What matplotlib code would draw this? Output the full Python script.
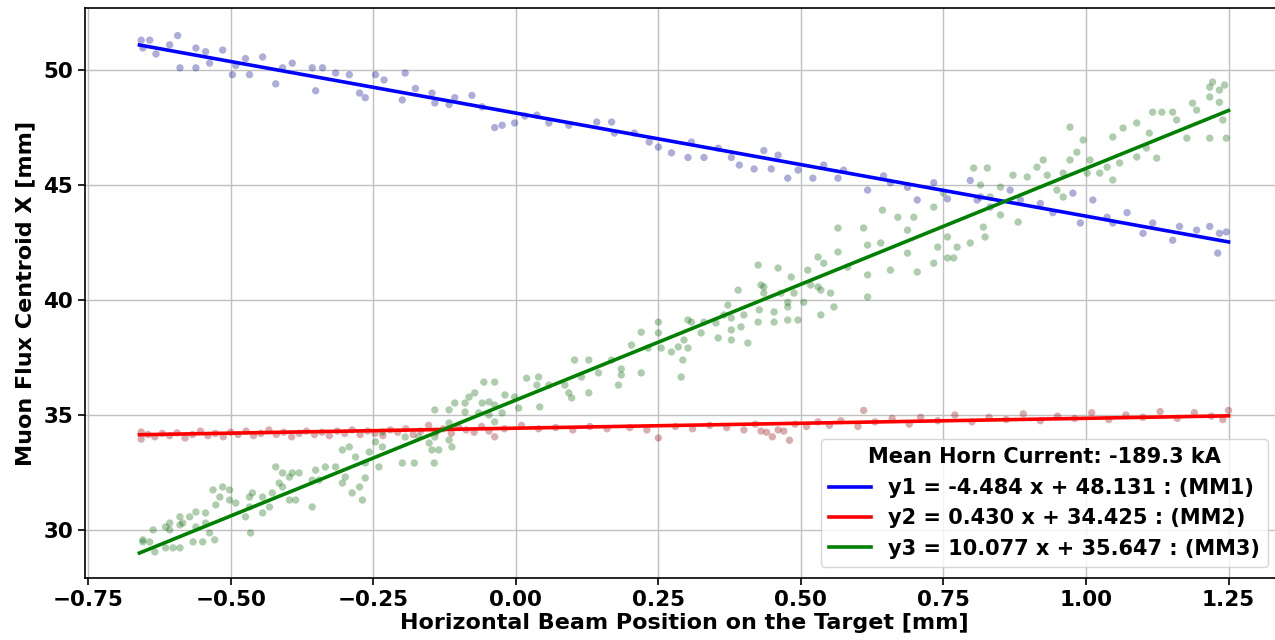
import numpy as np
import matplotlib
matplotlib.use("Agg")
import matplotlib.pyplot as plt

# values
blue_x = [-0.657, -0.642, -0.593, -0.654, -0.631, -0.607, -0.589, -0.561, -0.544, -0.561,
          -0.537, -0.514, -0.497, -0.491, -0.474, -0.467, -0.444, -0.421, -0.409, -0.392,
          -0.357, -0.351, -0.339, -0.316, -0.292, -0.274, -0.264, -0.246, -0.231, -0.194,
          -0.199, -0.176, -0.147, -0.142, -0.117, -0.107, -0.077, -0.059, -0.037, -0.024,
          -0.002, 0.016, 0.037, 0.058, 0.093, 0.142, 0.168, 0.173, 0.208, 0.234,
          0.25, 0.273, 0.302, 0.308, 0.33, 0.355, 0.378, 0.392, 0.418, 0.435,
          0.448, 0.46, 0.477, 0.495, 0.521, 0.54, 0.565, 0.575, 0.617, 0.645,
          0.657, 0.687, 0.704, 0.733, 0.757, 0.797, 0.809, 0.815, 0.832, 0.867,
          0.885, 0.92, 0.942, 0.977, 0.99, 1.012, 1.037, 1.047, 1.072, 1.1,
          1.117, 1.152, 1.164, 1.194, 1.217, 1.231, 1.234, 1.246]
blue_y = [51.3, 51.3, 51.5, 50.96, 50.7, 51.1, 50.1, 50.96, 50.8, 50.1,
          50.3, 50.87, 49.8, 50.2, 50.5, 49.8, 50.57, 49.4, 50.1, 50.3,
          50.1, 49.1, 50.1, 49.87, 49.8, 49.0, 48.8, 49.8, 49.57, 49.87,
          48.7, 49.2, 49.0, 48.57, 48.5, 48.8, 48.9, 48.4, 47.5, 47.6,
          47.7, 48.0, 48.04, 47.7, 47.6, 47.74, 47.74, 47.26, 47.26, 46.87,
          46.65, 46.4, 46.2, 46.87, 46.2, 46.6, 46.2, 45.87, 45.7, 46.5,
          45.7, 46.3, 45.3, 45.65, 45.3, 45.87, 45.3, 45.65, 44.78, 45.4,
          45.1, 44.9, 44.35, 45.1, 44.4, 45.2, 44.35, 44.48, 44.04, 44.78,
          44.35, 44.2, 43.8, 44.65, 43.35, 44.35, 43.6, 43.35, 43.8, 42.9,
          43.35, 42.6, 43.2, 43.04, 43.2, 42.04, 42.9, 42.96]

red_x = [-0.657, -0.657, -0.645, -0.633, -0.62, -0.607, -0.594, -0.58, -0.567, -0.553,
         -0.54, -0.527, -0.513, -0.5, -0.487, -0.473, -0.46, -0.447, -0.433, -0.42,
         -0.407, -0.393, -0.38, -0.367, -0.353, -0.34, -0.327, -0.313, -0.3, -0.287,
         -0.273, -0.26, -0.247, -0.233, -0.22, -0.207, -0.193, -0.18, -0.167, -0.153,
         -0.14, -0.127, -0.113, -0.1, -0.087, -0.073, -0.06, -0.047, -0.037, -0.02,
         0.01, 0.04, 0.07, 0.1, 0.13, 0.16, 0.2, 0.23, 0.25, 0.28,
         0.31, 0.34, 0.37, 0.4, 0.42, 0.43, 0.44, 0.45, 0.46, 0.47,
         0.48, 0.49, 0.51, 0.53, 0.55, 0.57, 0.6, 0.61, 0.63, 0.66,
         0.69, 0.71, 0.74, 0.77, 0.8, 0.83, 0.86, 0.89, 0.92, 0.95,
         0.98, 1.01, 1.04, 1.07, 1.1, 1.13, 1.16, 1.19, 1.22, 1.25, 1.24]
red_y = [34.26, 33.95, 34.15, 34.05, 34.2, 34.1, 34.22, 34.0, 34.15, 34.3,
         34.1, 34.2, 34.05, 34.25, 34.15, 34.3, 34.1, 34.2, 34.35, 34.15,
         34.25, 34.05, 34.2, 34.3, 34.15, 34.25, 34.1, 34.3, 34.2, 34.35,
         34.15, 34.3, 34.2, 34.1, 34.35, 34.25, 34.4, 34.15, 34.3, 34.55,
         34.25, 34.4, 34.2, 34.45, 34.35, 34.25, 34.5, 34.3, 34.05, 34.4,
         34.55, 34.4, 34.45, 34.35, 34.5, 34.4, 34.45, 34.35, 34.0, 34.5,
         34.4, 34.55, 34.45, 34.35, 34.6, 34.3, 34.25, 34.05, 34.35, 34.3,
         33.9, 34.6, 34.5, 34.7, 34.55, 34.75, 34.5, 35.2, 34.7, 34.85,
         34.6, 34.9, 34.75, 35.0, 34.7, 34.9, 34.8, 35.05, 34.75, 34.95,
         34.85, 35.1, 34.8, 35.0, 34.9, 35.15, 34.85, 35.1, 34.95, 35.2, 34.8]

green_x = [1.217, 1.222, 1.234, 1.243, 1.187, 1.217, 1.234, 1.194, 1.24, 1.217,
           1.246, 1.177, 1.159, 1.117, 1.133, 1.152, 1.089, 1.065, 1.047, 1.111,
           1.106, 1.124, 1.089, 1.059, 1.037, 1.007, 1.024, 1.047, 0.972, 0.995,
           0.984, 0.972, 1.002, 0.96, 0.932, 0.914, 0.925, 0.897, 0.872, 0.85,
           0.827, 0.815, 0.832, 0.82, 0.823, 0.85, 0.881, 0.949, 0.96,
           0.803, 0.75, 0.733, 0.643, 0.67, 0.698, 0.687, 0.565, 0.61, 0.617,
           0.64, 0.687, 0.74, 0.757, 0.774, 0.797, 0.757, 0.768, 0.704, 0.733,
           0.657, 0.617, 0.582, 0.565, 0.54, 0.53, 0.512, 0.483, 0.46, 0.425,
           0.39, 0.435, 0.488, 0.53, 0.552, 0.617,
           0.43, 0.435, 0.465, 0.517, 0.535, 0.505, 0.477, 0.372, 0.365, 0.427,
           0.453, 0.477, 0.4, 0.425, 0.453, 0.477, 0.495, 0.535, 0.558, 0.378,
           0.351, 0.33, 0.308, 0.302, 0.395, 0.378, 0.355, 0.378, 0.407, 0.325,
           0.295, 0.25, 0.25, 0.22, 0.203, 0.232, 0.255, 0.273, 0.285, 0.302,
           0.293, 0.29, 0.22, 0.185, 0.168, 0.145, 0.128, 0.103, 0.115, 0.128,
           0.093, 0.098, 0.185, 0.18, 0.086, 0.04, 0.037, 0.042, 0.058,
           0.019, -0.056, -0.037, -0.072, -0.082, -0.019, -0.002, 0.005, -0.037, -0.059,
           -0.089, -0.107, -0.117, -0.142, -0.117, -0.089, -0.065, -0.047, -0.037, -0.024,
           -0.047, -0.142, -0.117, -0.152, -0.147, -0.135, -0.112, -0.194, -0.17, -0.199,
           -0.178, -0.143, -0.234, -0.246, -0.257, -0.234, -0.292, -0.304, -0.281, -0.264,
           -0.24, -0.264, -0.274, -0.287, -0.269, -0.304, -0.299, -0.316, -0.334, -0.351,
           -0.357, -0.345, -0.38, -0.392, -0.397, -0.409, -0.421, -0.415, -0.386, -0.357,
           -0.397, -0.409, -0.427, -0.432, -0.444, -0.444, -0.467, -0.474, -0.467, -0.462,
           -0.491, -0.502, -0.502, -0.514, -0.531, -0.519, -0.526, -0.544, -0.561, -0.561,
           -0.584, -0.589, -0.614, -0.607, -0.636, -0.654, -0.642, -0.633, -0.614, -0.601,
           -0.589, -0.549, -0.528, -0.537, -0.566, -0.465, -0.589, -0.607, -0.654, -0.572, -0.544]
green_y = [49.26, 49.48, 49.13, 49.35, 48.56, 48.83, 48.6, 48.26, 47.83, 47.04,
           47.04, 47.04, 47.83, 48.17, 48.17, 48.17, 47.7, 47.48, 47.09, 47.26,
           46.61, 46.17, 46.22, 45.96, 45.78, 46.09, 45.52, 45.22, 47.52, 46.96,
           46.43, 46.09, 45.52, 45.52, 45.43, 45.78, 46.09, 45.35, 45.43, 44.91,
           45.74, 45.0, 44.48, 43.17, 42.74, 43.7, 43.39, 44.78, 44.48,
           45.74, 44.65, 44.04, 43.91, 43.6, 43.6, 43.04, 43.13, 43.13, 42.39,
           42.48, 42.04, 42.3, 42.74, 42.3, 42.48, 41.83, 41.83, 41.22, 41.6,
           41.3, 41.09, 41.43, 42.09, 41.6, 41.87, 41.3, 41.0, 41.39, 41.52,
           40.43, 40.57, 40.3, 40.57, 40.3, 40.13,
           40.65, 40.3, 40.3, 40.65, 40.43, 39.9, 39.9, 39.78, 39.35, 39.57,
           39.48, 39.7, 39.35, 39.04, 39.04, 39.13, 39.13, 39.35, 39.7, 39.22,
           39.0, 39.04, 39.04, 39.13, 38.83, 38.7, 38.35, 38.26, 38.13, 38.57,
           38.26, 39.04, 38.57, 38.6, 38.04, 37.91, 37.91, 37.74, 37.96, 37.91,
           37.39, 36.65, 36.83, 37.0, 37.39, 36.83, 37.39, 37.39, 36.65, 35.96,
           35.96, 35.74, 36.74, 36.3, 36.3, 36.65, 36.3, 35.35, 36.3,
           36.6, 36.43, 36.43, 35.96, 35.78, 35.87, 35.78, 35.3, 35.43, 35.52,
           35.52, 35.52, 35.22, 35.22, 34.65, 35.13, 35.09, 35.0, 34.7, 35.09,
           35.57, 34.04, 33.91, 33.78, 33.48, 33.48, 33.61, 34.04, 34.04, 32.91,
           32.91, 32.91, 34.26, 33.83, 33.39, 33.61, 33.61, 33.48, 33.17, 32.91,
           32.74, 32.26, 31.87, 31.61, 31.3, 32.04, 32.3, 32.74, 32.74, 32.6,
           32.17, 32.17, 32.48, 32.48, 32.3, 32.48, 32.74, 32.04, 31.3, 31.0,
           31.3, 31.87, 31.61, 31.0, 31.43, 30.74, 31.0, 30.57, 31.43, 31.61,
           31.17, 31.3, 31.74, 31.87, 31.74, 31.43, 31.09, 30.74, 30.78, 30.13,
           30.3, 30.57, 30.13, 30.0, 30.0, 29.48, 29.48, 29.04, 29.22, 29.22,
           29.22, 29.48, 29.57, 29.87, 29.48, 29.87, 30.22, 30.3, 29.57, 30.57, 30.3]

# linear fits as printed in the legend
fit_slopes = [-4.484, 0.430, 10.077]
fit_intercepts = [48.131, 34.425, 35.647]
fit_names = ["MM1", "MM2", "MM3"]
fit_x_range = [-0.66, 1.25]
horn_current = -189.3

series = [
    (blue_x, blue_y, "#00008b", "blue"),
    (red_x, red_y, "#8b0000", "red"),
    (green_x, green_y, "#006400", "green"),
]

plt.rcParams["font.family"] = "DejaVu Sans"
plt.rcParams["font.weight"] = "bold"

fig = plt.figure(figsize=(12.75, 6.4), dpi=100)
ax = fig.add_axes([85 / 1275, 62 / 640, 1198 / 1275, 570 / 640])

for xs, ys, dot_color, _ in series:
    ax.scatter(xs, ys, s=28, color=dot_color, alpha=0.32, edgecolors="none", zorder=2)

fx = np.array(fit_x_range)
for i, (_, _, _, line_color) in enumerate(series):
    a, b = fit_slopes[i], fit_intercepts[i]
    label = f"y{i + 1} = {a:.3f} x + {b:.3f} : ({fit_names[i]})"
    ax.plot(fx, a * fx + b, color=line_color, linewidth=2.6, label=label, zorder=3)

ax.set_xlim(-0.7555, 1.3455)
ax.set_ylim(27.91, 52.70)
ax.set_xticks([-0.75, -0.5, -0.25, 0.0, 0.25, 0.5, 0.75, 1.0, 1.25])
ax.set_yticks([30, 35, 40, 45, 50])
ax.tick_params(labelsize=15.5, width=1.2, length=5)
for lbl in ax.get_xticklabels() + ax.get_yticklabels():
    lbl.set_fontweight("bold")

ax.grid(True, color="#c0c0c0", linewidth=1.0)
ax.set_axisbelow(True)
for spine in ax.spines.values():
    spine.set_linewidth(1.2)
ax.spines["right"].set_visible(False)

ax.set_xlabel("Horizontal Beam Position on the Target [mm]", fontsize=16, fontweight="bold", labelpad=2)
ax.set_ylabel("Muon Flux Centroid X [mm]", fontsize=16, fontweight="bold", labelpad=6)

ax.legend(loc="lower right", bbox_to_anchor=((1268 - 85) / 1198, (578 - 567) / 570),
          title=f"Mean Horn Current: {horn_current} kA",
          title_fontproperties={"weight": "bold", "size": 15},
          prop={"weight": "bold", "size": 15}, handlelength=2.0,
          borderaxespad=0.0)

fig.savefig("out.png", dpi=100)
